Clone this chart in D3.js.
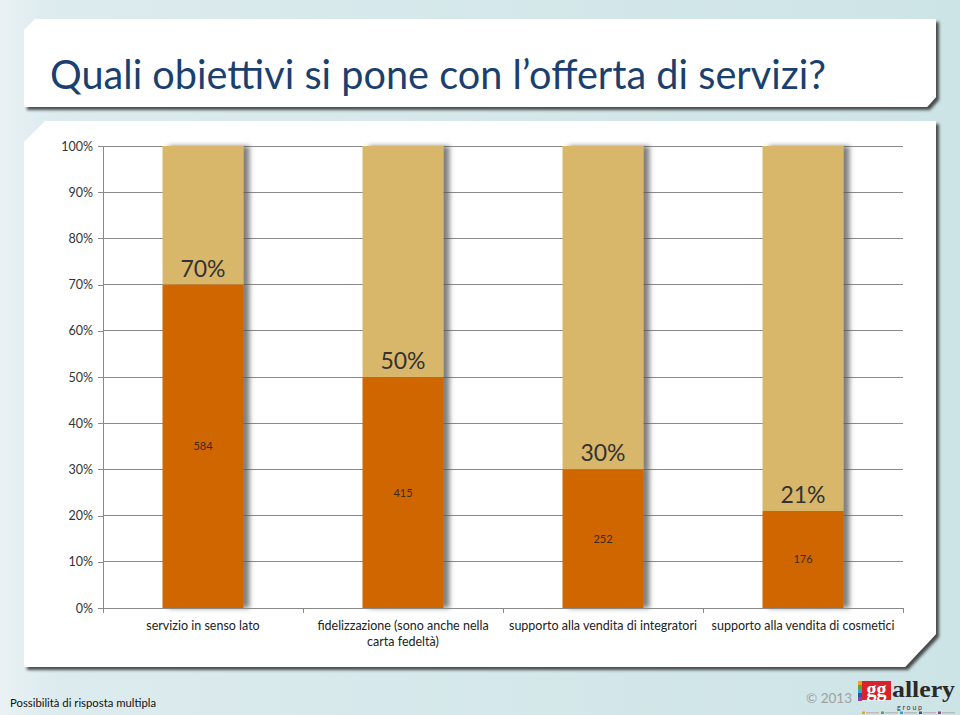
<!DOCTYPE html>
<html><head><meta charset="utf-8">
<script src="https://cdnjs.cloudflare.com/ajax/libs/d3/7.8.5/d3.min.js"></script>
<style>body{margin:0;padding:0;overflow:hidden;} svg{display:block;}</style>
</head><body>
<script>
const categories = ["servizio in senso lato", "fidelizzazione (sono anche nella carta fedeltà)", "supporto alla vendita di integratori", "supporto alla vendita di cosmetici"];
const percentValues = [70, 50, 30, 21];
const counts = [584, 415, 252, 176];
const yTicks = [0, 10, 20, 30, 40, 50, 60, 70, 80, 90, 100];
const titleText = "Quali obiettivi si pone con l’offerta di servizi?";
const footnote = "Possibilità di risposta multipla";
const copyright = "© 2013";

const W = 960, H = 715;
const svg = d3.select("body").append("svg").attr("width", W).attr("height", H);
const defs = svg.append("defs");
const bg = defs.append("linearGradient").attr("id", "bg").attr("x1", 0).attr("x2", 1).attr("y1", 0).attr("y2", 0);
bg.append("stop").attr("offset", 0).attr("stop-color", "#e9f1f4");
bg.append("stop").attr("offset", 0.06).attr("stop-color", "#dcebee");
bg.append("stop").attr("offset", 1).attr("stop-color", "#cde4e6");
const sh = defs.append("filter").attr("id", "panelShadow").attr("x", "-5%").attr("y", "-5%").attr("width", "110%").attr("height", "115%");
sh.append("feDropShadow").attr("dx", 3).attr("dy", 3).attr("stdDeviation", 1.5).attr("flood-color", "#2f2f2f").attr("flood-opacity", 0.85);
const bsh = defs.append("filter").attr("id", "barShadow").attr("x", "-20%").attr("y", "-5%").attr("width", "150%").attr("height", "110%");
bsh.append("feDropShadow").attr("dx", 6).attr("dy", 0).attr("stdDeviation", 2.5).attr("flood-color", "#555").attr("flood-opacity", 0.75);

svg.append("rect").attr("width", W).attr("height", H).attr("fill", "url(#bg)");

// panels
svg.append("path").attr("d", "M24,30 L35,19 L936,19 L936,97 L927,107 L24,107 Z")
  .attr("fill", "#fff").attr("filter", "url(#panelShadow)");
svg.append("path").attr("d", "M24,142 L45,121 L936,121 L936,634 L905,667 L24,667 Z")
  .attr("fill", "#fff").attr("filter", "url(#panelShadow)");

// title
svg.append("text").attr("x", 50).attr("y", 89).text(titleText)
  .attr("font-family", "Lato, 'Open Sans', sans-serif").attr("font-weight", 400).attr("font-size", 40)
  .attr("textLength", 776).attr("lengthAdjust", "spacingAndGlyphs").attr("fill", "#1b3f6e");

// scales
const x = d3.scaleBand().domain(categories).range([103, 903]).paddingInner(0.595).paddingOuter(0.2975);
const y = d3.scaleLinear().domain([0, 100]).range([608, 146]);

const g = svg.append("g");
// gridlines
g.selectAll("line.grid").data(yTicks.filter(d => d > 0)).join("line").attr("class", "grid")
  .attr("x1", 103).attr("x2", 903).attr("y1", d => y(d)).attr("y2", d => y(d))
  .attr("stroke", "#8a8a8a").attr("stroke-width", 1).attr("shape-rendering", "crispEdges");

// y axis
const yAxis = g.append("g").attr("transform", "translate(103,0)")
  .call(d3.axisLeft(y).tickValues(yTicks).tickFormat(d => d + "%").tickSize(5).tickPadding(5));
yAxis.selectAll("path,line").attr("stroke", "#8a8a8a").attr("shape-rendering", "crispEdges");
yAxis.selectAll("text").attr("font-family", "Lato, sans-serif").attr("font-size", 12.5).attr("fill", "#333");

// bars
const bars = g.selectAll("g.bar").data(categories).join("g").attr("class", "bar").attr("filter", "url(#barShadow)");
bars.append("rect").attr("x", d => x(d)).attr("width", x.bandwidth())
  .attr("y", y(100)).attr("height", (d, i) => y(percentValues[i]) - y(100)).attr("fill", "#d9b76a");
bars.append("rect").attr("x", d => x(d)).attr("width", x.bandwidth())
  .attr("y", (d, i) => y(percentValues[i])).attr("height", (d, i) => y(0) - y(percentValues[i])).attr("fill", "#d06600");

// x axis
g.append("line").attr("x1", 103).attr("x2", 903).attr("y1", y(0)).attr("y2", y(0))
  .attr("stroke", "#8a8a8a").attr("shape-rendering", "crispEdges");
const bounds = d3.range(categories.length + 1).map(i => 103 + i * x.step());
g.selectAll("line.xt").data(bounds).join("line").attr("class", "xt")
  .attr("x1", d => d).attr("x2", d => d).attr("y1", y(0)).attr("y2", y(0) + 5)
  .attr("stroke", "#8a8a8a").attr("shape-rendering", "crispEdges");

// labels
g.selectAll("text.pct").data(categories).join("text").attr("class", "pct")
  .attr("x", d => x(d) + x.bandwidth() / 2).attr("y", (d, i) => y(percentValues[i]) - 8)
  .attr("text-anchor", "middle").attr("font-family", "Lato, sans-serif").attr("font-size", 23).attr("fill", "#333")
  .text((d, i) => percentValues[i] + "%");
g.selectAll("text.cnt").data(categories).join("text").attr("class", "cnt")
  .attr("x", d => x(d) + x.bandwidth() / 2).attr("y", (d, i) => (y(percentValues[i]) + y(0)) / 2 + 4)
  .attr("text-anchor", "middle").attr("font-family", "Lato, sans-serif").attr("font-size", 11).attr("fill", "#3a2a1a")
  .text((d, i) => counts[i]);

// category labels with wrapping
const catLabels = g.selectAll("text.cat").data(categories).join("text").attr("class", "cat")
  .attr("text-anchor", "middle").attr("font-family", "Lato, sans-serif").attr("font-size", 12.5).attr("fill", "#222");
catLabels.each(function (d) {
  const t = d3.select(this);
  const cx = x(d) + x.bandwidth() / 2;
  const words = d.split(" ");
  let line = [], lineNo = 0;
  let ts = t.append("tspan").attr("x", cx).attr("y", 630);
  for (const w of words) {
    line.push(w);
    ts.text(line.join(" "));
    if (ts.node().getComputedTextLength() > 196 && line.length > 1) {
      line.pop(); ts.text(line.join(" "));
      line = [w]; lineNo++;
      ts = t.append("tspan").attr("x", cx).attr("y", 630 + lineNo * 15.5).text(w);
    }
  }
});

// footer
svg.append("text").attr("x", 10).attr("y", 707).text(footnote)
  .attr("font-family", "Lato, sans-serif").attr("font-size", 11.3).attr("fill", "#111");
svg.append("text").attr("x", 806).attr("y", 703).text(copyright)
  .attr("font-family", "Lato, sans-serif").attr("font-size", 13.5).attr("fill", "#a0a0a0");
// logo
const logo = svg.append("g");
const stripeColors = ["#f7a21b", "#5aa83a", "#2fa6d8", "#2f4fb5", "#8e3f98"];
logo.selectAll("rect.vs").data(stripeColors).join("rect").attr("class", "vs")
  .attr("x", 858).attr("y", (d, i) => 681 + i * 4).attr("width", 4).attr("height", 4).attr("fill", d => d);
logo.append("rect").attr("x", 862).attr("y", 681).attr("width", 29).attr("height", 19).attr("fill", "#d8232a");
logo.append("text").attr("x", 876.5).attr("y", 696).attr("text-anchor", "middle").text("gg")
  .attr("font-family", "'Liberation Serif', serif").attr("font-weight", "bold").attr("font-size", 20).attr("fill", "#fff");
logo.append("text").attr("x", 892).attr("y", 697).text("allery")
  .attr("font-family", "'Liberation Serif', serif").attr("font-weight", "bold").attr("font-size", 24)
  .attr("textLength", 63).attr("lengthAdjust", "spacingAndGlyphs").attr("fill", "#2a2a2a");
logo.append("text").attr("x", 897).attr("y", 709.5).text("g r o u p")
  .attr("font-family", "Lato, sans-serif").attr("font-size", 7).attr("fill", "#333");
logo.selectAll("rect.st").data(stripeColors).join("rect").attr("class", "st")
  .attr("x", (d, i) => 862 + i * 19).attr("y", 711.5).attr("width", 3).attr("height", 2.5).attr("fill", d => d);
logo.selectAll("rect.sl").data(stripeColors).join("rect").attr("class", "sl")
  .attr("x", (d, i) => 866 + i * 19).attr("y", 712).attr("width", 13).attr("height", 1.5).attr("fill", "#bbb");
</script>
</body></html>
